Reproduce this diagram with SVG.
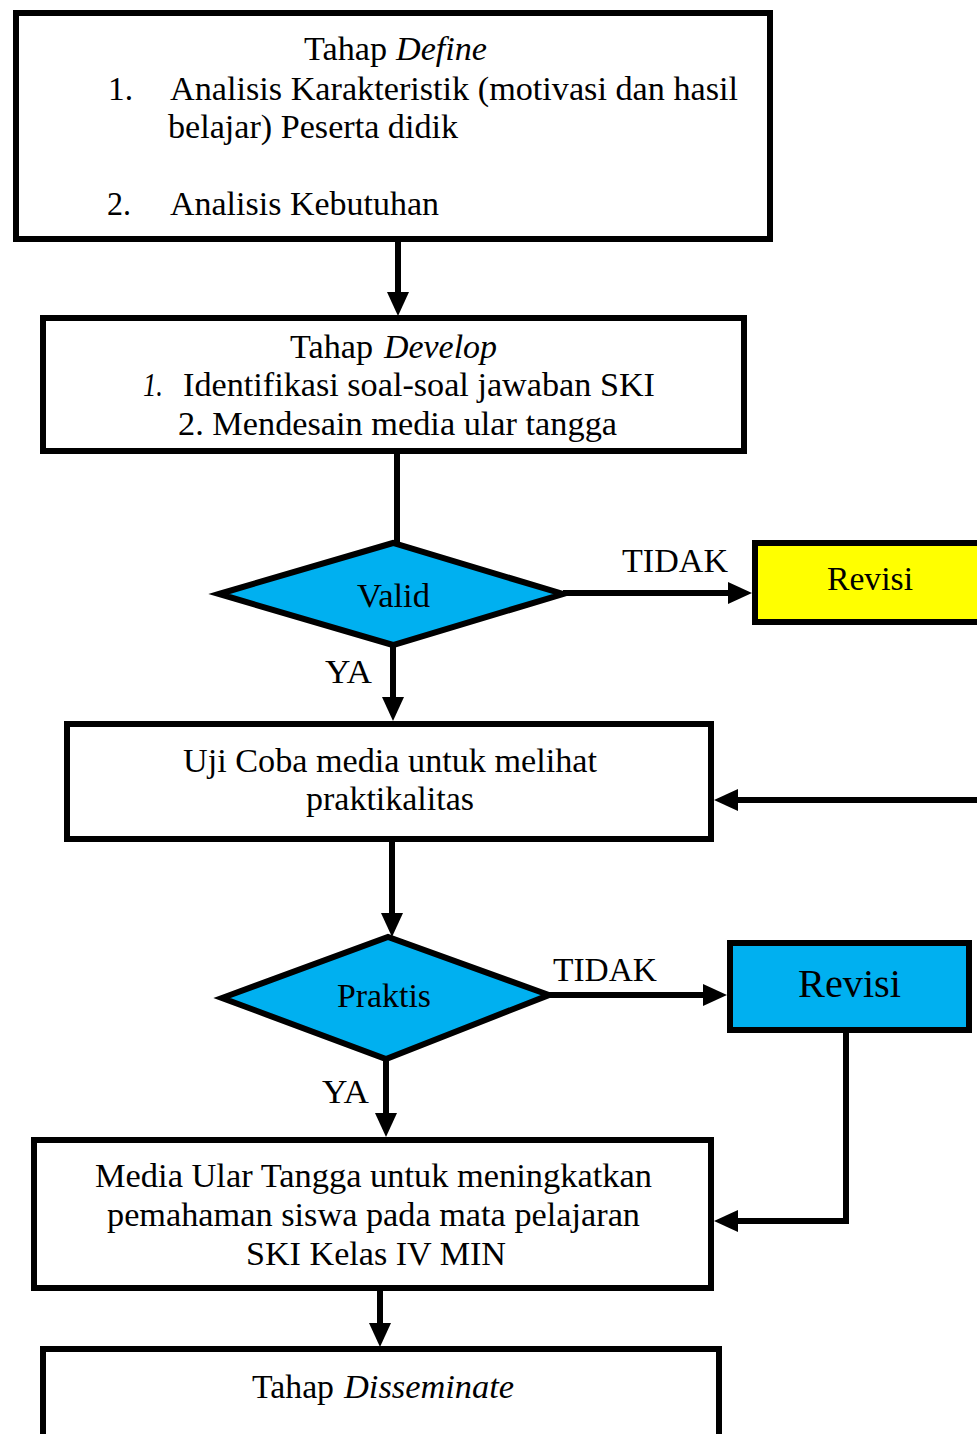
<svg xmlns="http://www.w3.org/2000/svg" width="977" height="1434" viewBox="0 0 977 1434">
<style>
.box{fill:#fff;stroke:#000;stroke-width:6}
.yel{fill:#ffff00;stroke:#000;stroke-width:6}
.cyan{fill:#00b0f0;stroke:#000;stroke-width:6;stroke-linejoin:miter}
.t{font-family:"Liberation Serif","Times New Roman",serif;font-size:34px;fill:#000}
.i{font-style:italic}
.ln{fill:none;stroke:#000;stroke-width:6}
.arr{fill:none;stroke:#000;stroke-width:6;marker-end:url(#ah)}
</style>
<defs>
<marker id="ah" markerUnits="userSpaceOnUse" markerWidth="24" markerHeight="22" viewBox="0 0 24 22" refX="4" refY="11" orient="auto">
<path d="M0,0 L24,11 L0,22 z" fill="#000"/>
</marker>
</defs>
<rect width="977" height="1434" fill="#fff"/>

<g id="connectors">
<line class="arr" x1="398" y1="242" x2="398" y2="296"/>
<line class="ln" x1="397" y1="454" x2="397" y2="546"/>
<line class="arr" x1="563" y1="593" x2="732" y2="593"/>
<line class="arr" x1="393" y1="645" x2="393" y2="701"/>
<line class="arr" x1="977" y1="800" x2="734" y2="800"/>
<line class="arr" x1="392" y1="842" x2="392" y2="917"/>
<line class="arr" x1="547" y1="995" x2="707" y2="995"/>
<line class="arr" x1="386" y1="1059" x2="386" y2="1117"/>
<polyline class="arr" points="846,1033 846,1221 734,1221"/>
<line class="arr" x1="380" y1="1291" x2="380" y2="1327"/>
<text class="t" x="622" y="572" textLength="106" lengthAdjust="spacingAndGlyphs">TIDAK</text>
<text class="t" x="325" y="683" textLength="47" lengthAdjust="spacingAndGlyphs">YA</text>
<text class="t" x="553" y="981" textLength="104" lengthAdjust="spacingAndGlyphs">TIDAK</text>
<text class="t" x="322" y="1103" textLength="47" lengthAdjust="spacingAndGlyphs">YA</text>
</g>

<g id="define">
<rect class="box" x="16" y="13" width="754" height="226"/>
<text class="t" x="304" y="60" textLength="83" lengthAdjust="spacingAndGlyphs">Tahap</text>
<text class="t i" x="396" y="60" textLength="91" lengthAdjust="spacingAndGlyphs">Define</text>
<text class="t" x="108" y="100" textLength="25" lengthAdjust="spacingAndGlyphs">1.</text>
<text class="t" x="170" y="100" textLength="568" lengthAdjust="spacingAndGlyphs">Analisis Karakteristik (motivasi dan hasil</text>
<text class="t" x="168" y="138" textLength="290" lengthAdjust="spacingAndGlyphs">belajar) Peserta didik</text>
<text class="t" x="107" y="215" textLength="24" lengthAdjust="spacingAndGlyphs">2.</text>
<text class="t" x="170" y="215" textLength="269" lengthAdjust="spacingAndGlyphs">Analisis Kebutuhan</text>
</g>

<g id="develop">
<rect class="box" x="43" y="318" width="701" height="133"/>
<text class="t" x="290" y="358" textLength="83" lengthAdjust="spacingAndGlyphs">Tahap</text>
<text class="t i" x="384" y="358" textLength="113" lengthAdjust="spacingAndGlyphs">Develop</text>
<text class="t i" x="143" y="396" textLength="20" lengthAdjust="spacingAndGlyphs">1.</text>
<text class="t" x="183" y="396" textLength="472" lengthAdjust="spacingAndGlyphs">Identifikasi soal-soal jawaban SKI</text>
<text class="t" x="178" y="435" textLength="439" lengthAdjust="spacingAndGlyphs">2. Mendesain media ular tangga</text>
</g>

<g id="valid">
<polygon class="cyan" points="219,594 393,543 563,594 393,645"/>
<text class="t" x="357" y="607" textLength="73" lengthAdjust="spacingAndGlyphs">Valid</text>
</g>

<g id="revisi1">
<rect class="yel" x="755" y="543" width="240" height="79"/>
<text class="t" x="827" y="590" textLength="86" lengthAdjust="spacingAndGlyphs">Revisi</text>
</g>

<g id="ujicoba">
<rect class="box" x="67" y="724" width="644" height="115"/>
<text class="t" x="183" y="772" textLength="414" lengthAdjust="spacingAndGlyphs">Uji Coba media untuk melihat</text>
<text class="t" x="306" y="810" textLength="168" lengthAdjust="spacingAndGlyphs">praktikalitas</text>
</g>

<g id="praktis">
<polygon class="cyan" points="222,998 388,937 549,995 386,1059"/>
<text class="t" x="337" y="1007" textLength="94" lengthAdjust="spacingAndGlyphs">Praktis</text>
</g>

<g id="revisi2">
<rect class="cyan" x="730" y="943" width="239" height="87"/>
<text class="t" x="798" y="997" style="font-size:40px" textLength="103" lengthAdjust="spacingAndGlyphs">Revisi</text>
</g>

<g id="media">
<rect class="box" x="34" y="1140" width="677" height="148"/>
<text class="t" x="95" y="1187" textLength="557" lengthAdjust="spacingAndGlyphs">Media Ular Tangga untuk meningkatkan</text>
<text class="t" x="107" y="1226" textLength="533" lengthAdjust="spacingAndGlyphs">pemahaman siswa pada mata pelajaran</text>
<text class="t" x="246" y="1265" textLength="260" lengthAdjust="spacingAndGlyphs">SKI Kelas IV MIN</text>
</g>

<g id="disseminate">
<rect class="box" x="43" y="1349" width="676" height="110"/>
<text class="t" x="252" y="1398" textLength="82" lengthAdjust="spacingAndGlyphs">Tahap</text>
<text class="t i" x="344" y="1398" textLength="170" lengthAdjust="spacingAndGlyphs">Disseminate</text>
</g>
</svg>
